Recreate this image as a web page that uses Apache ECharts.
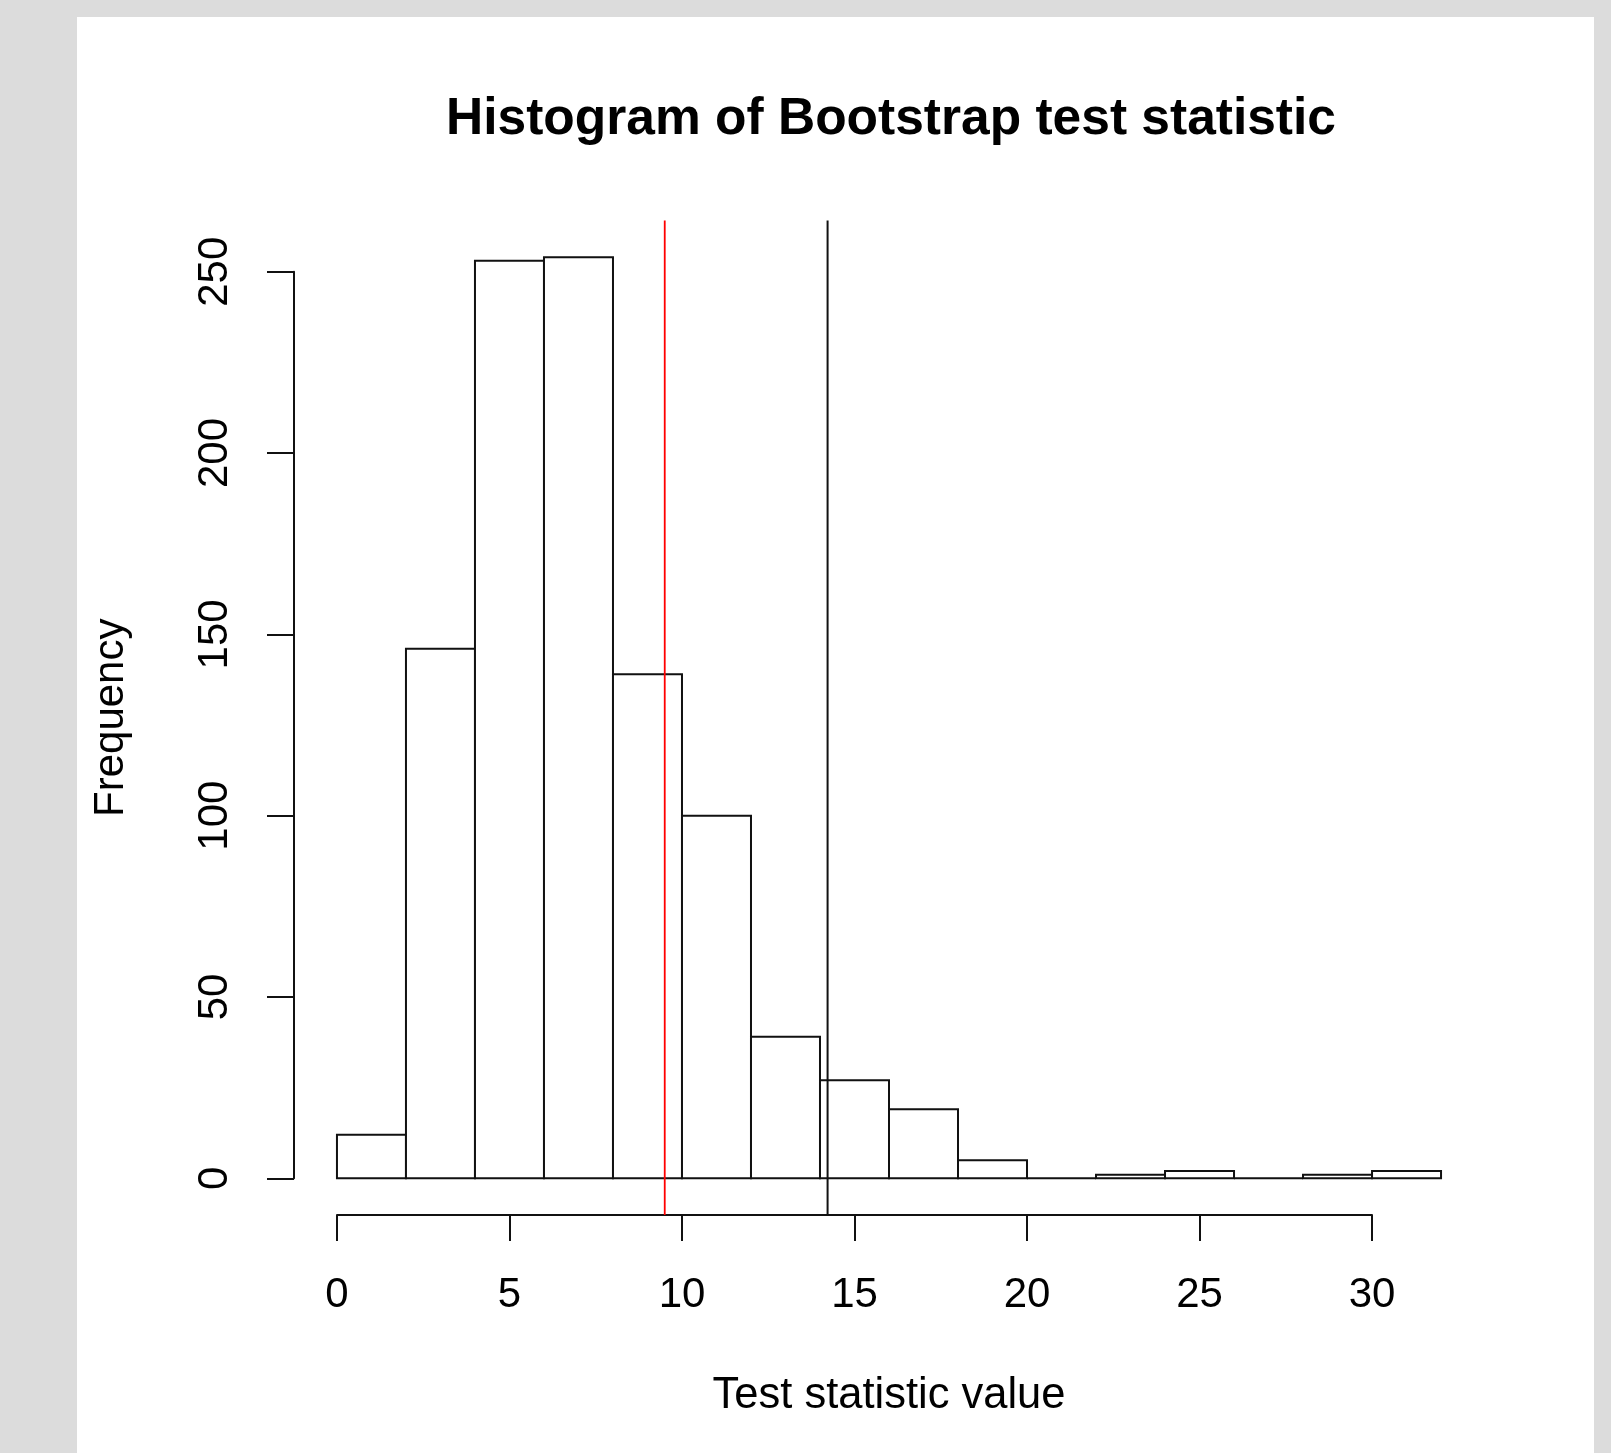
<!DOCTYPE html>
<html>
<head>
<meta charset="utf-8">
<script src="https://cdn.jsdelivr.net/npm/echarts@6/dist/echarts.min.js"></script>
<style>
html, body { margin: 0; padding: 0; background: #dcdcdc; }
#panel { position: absolute; left: 77px; top: 17px; width: 1517px; height: 1436px; background: #fff; }
#chart { position: absolute; left: 0; top: 0; width: 1611px; height: 1453px; }
</style>
</head>
<body>
<div id="panel"></div>
<div id="chart"></div>
<script>
// histogram bins (width 2) and their counts
const binWidth = 2;
const binStarts = [0, 2, 4, 6, 8, 10, 12, 14, 16, 18, 20, 22, 24, 26, 28, 30];
const counts = [12, 146, 253, 254, 139, 100, 39, 27, 19, 5, 0, 1, 2, 0, 1, 2];

// vertical lines (abline)
const redLineX = 9.5;
const blackLineX = 14.22;

// tick labels
const xTicks = [0, 5, 10, 15, 20, 25, 30];
const yTicks = [0, 50, 100, 150, 200, 250];

// R pads the axis range by 4% on each side
const xLo = 0, xHi = 32, yLo = 0, yHi = 254;
const xMin = xLo - 0.04 * (xHi - xLo), xMax = xHi + 0.04 * (xHi - xLo);
const yMin = yLo - 0.04 * (yHi - yLo), yMax = yHi + 0.04 * (yHi - yLo);

const font = 'Liberation Sans';
const ink = '#111';

const chart = echarts.init(document.getElementById('chart'));

function renderBar(params, api) {
  const lo = api.coord([api.value(0), 0]);
  const hi = api.coord([api.value(1), api.value(2)]);
  return {
    type: 'rect',
    shape: { x: lo[0], y: hi[1], width: hi[0] - lo[0], height: lo[1] - hi[1] },
    style: { fill: '#fff', stroke: ink, lineWidth: 2 }
  };
}

const hidden = { show: false };

chart.setOption({
  animation: false,
  title: {
    text: 'Histogram of Bootstrap test statistic',
    left: 886,
    top: 89,
    textAlign: 'center',
    textStyle: { fontFamily: font, fontSize: 51.5, fontWeight: 'bold', color: '#000' }
  },
  grid: [
    // plot region
    { left: 292.8, right: 125.8, top: 220.4, bottom: 237.9 },
    // y axis (0..250 only)
    { left: 294, width: 1, top: 271.7, bottom: 1453 - 1178.3 },
    // x axis (0..30 only)
    { left: 337, right: 1611 - 1372, top: 1214, bottom: 1453 - 1215 }
  ],
  xAxis: [
    {
      gridIndex: 0, type: 'value', min: xMin, max: xMax,
      axisLine: hidden, axisTick: hidden, axisLabel: hidden, splitLine: hidden,
      name: 'Test statistic value', nameLocation: 'middle', nameGap: 159,
      nameTextStyle: { fontFamily: font, fontSize: 43.5, color: '#000' }
    },
    { gridIndex: 1, type: 'value', show: false },
    {
      gridIndex: 2, type: 'value', position: 'bottom',
      min: xTicks[0], max: xTicks[xTicks.length - 1], interval: xTicks[1] - xTicks[0],
      axisLine: { lineStyle: { color: ink, width: 2 } },
      axisTick: { length: 26, lineStyle: { color: ink, width: 2 } },
      axisLabel: { margin: 59, fontFamily: font, fontSize: 42, color: '#000' },
      splitLine: hidden
    }
  ],
  yAxis: [
    {
      gridIndex: 0, type: 'value', min: yMin, max: yMax,
      axisLine: hidden, axisTick: hidden, axisLabel: hidden, splitLine: hidden,
      name: 'Frequency', nameLocation: 'middle', nameGap: 160, nameRotate: 90,
      nameTextStyle: { fontFamily: font, fontSize: 42, color: '#000' }
    },
    {
      gridIndex: 1, type: 'value', position: 'left',
      min: yTicks[0], max: yTicks[yTicks.length - 1], interval: yTicks[1] - yTicks[0],
      axisLine: { show: true, lineStyle: { color: ink, width: 2 } },
      axisTick: { show: true, length: 27, lineStyle: { color: ink, width: 2 } },
      axisLabel: { rotate: 90, margin: 58, fontFamily: font, fontSize: 42, color: '#000' },
      splitLine: hidden
    },
    { gridIndex: 2, type: 'value', show: false }
  ],
  series: [
    {
      type: 'custom',
      xAxisIndex: 0, yAxisIndex: 0,
      renderItem: renderBar,
      encode: { x: [0, 1], y: 2 },
      data: binStarts.map((s, i) => [s, s + binWidth, counts[i]])
    },
    {
      type: 'line', xAxisIndex: 0, yAxisIndex: 0, symbol: 'none', silent: true, z: 5,
      lineStyle: { color: '#ff0000', width: 1.8 },
      data: [[redLineX, yMin], [redLineX, yMax]]
    },
    {
      type: 'line', xAxisIndex: 0, yAxisIndex: 0, symbol: 'none', silent: true, z: 5,
      lineStyle: { color: ink, width: 2 },
      data: [[blackLineX, yMin], [blackLineX, yMax]]
    }
  ]
});
</script>
</body>
</html>
